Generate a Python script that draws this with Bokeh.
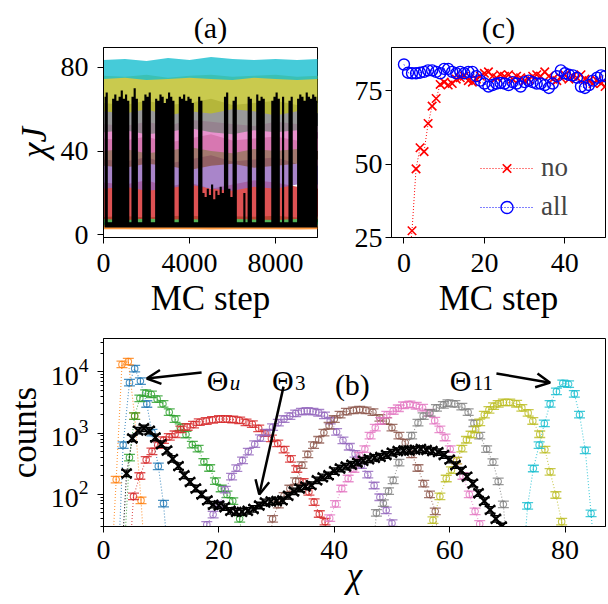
import numpy as np
from bokeh.plotting import figure
from bokeh.layouts import column, row
from bokeh.models import Range1d, FixedTicker, Label, Arrow, OpenHead
from bokeh.embed import file_html
from bokeh.resources import INLINE

# ======================= DATA =======================
# ---- panel (a): chi_J traces (bands of the colored traces + black trace) ----
A_T = [0, 1000, 2000, 3000, 4000, 5000, 6000, 7000, 8000, 9000, 10000]
A_C0_LO = [3.8, 4.0, 3.9, 4.1, 3.8, 4.0, 3.9, 4.0, 4.1, 3.9, 4.0]
A_C0_HI = [6.0, 6.3, 5.9, 6.2, 6.1, 6.0, 6.3, 5.9, 6.1, 6.2, 6.0]
A_C1_LO = [2.6, 2.7, 2.5, 2.6, 2.7, 2.5, 2.6, 2.7, 2.6, 2.5, 2.6]
A_C1_HI = [4.8, 5.0, 4.7, 4.9, 5.0, 4.8, 4.9, 4.7, 5.0, 4.8, 4.9]
A_C2_LO = [4.5, 4.6, 4.4, 4.5, 4.7, 4.5, 4.4, 4.6, 4.5, 4.4, 4.6]
A_C2_HI = [8.5, 9.0, 8.2, 8.8, 9.2, 8.4, 8.9, 8.6, 9.1, 8.3, 8.7]
A_C3_LO = [7.5, 7.0, 7.8, 7.2, 7.5, 7.0, 7.6, 7.3, 7.1, 7.5, 7.4]
A_C3_HI = [25, 24, 26, 23, 25, 22, 24, 26, 25, 23, 24]
A_C4_LO = [22, 23, 21, 22, 24, 22, 21, 23, 22, 24, 22]
A_C4_HI = [36, 35, 37, 34, 36, 38, 35, 36, 37, 34, 36]
A_C5_LO = [33, 32, 34, 33, 31, 33, 34, 32, 33, 34, 33]
A_C5_HI = [46, 45, 47, 44, 46, 48, 45, 46, 47, 45, 46]
A_C6_LO = [40, 41, 39, 40, 42, 40, 39, 41, 40, 41, 40]
A_C6_HI = [53, 52, 54, 52, 55, 54, 53, 52, 54, 53, 52]
A_C7_LO = [49, 50, 48, 49, 51, 49, 48, 50, 49, 50, 49]
A_C7_HI = [63, 62, 64, 62, 63, 65, 62, 63, 64, 62, 63]
A_C8_LO = [59, 58, 60, 57, 59, 58, 60, 59, 57, 59, 58]
A_C8_HI = [76, 75.5, 76.5, 75, 76, 76.5, 75.5, 76, 76.5, 75.5, 76]
A_C9_LO = [74.5, 75, 74, 74.5, 75, 74.5, 74, 75, 74.5, 74, 74.5]
A_C9_HI = [83.5, 84, 83, 84.5, 83.5, 85, 84, 83.5, 84, 83.5, 84]
A_BIN = 100
A_BLACK_FLOOR = 3.5
A_BLACK_TOP = [66, 68, 6, 6, 65, 67, 64, 66, 69, 65,
               67, 64, 6, 66, 70, 65, 6, 6, 64, 67,
               66, 68, 6, 6, 65, 64, 67, 66, 63, 65,
               68, 66, 64, 6, 6, 66, 65, 67, 64, 66,
               65, 63, 6, 6, 66, 64, 20, 18, 22, 19,
               24, 17, 21, 19, 23, 20, 66, 68, 22, 18,
               64, 66, 6, 6, 6, 20, 6, 66, 65, 6,
               6, 67, 64, 66, 65, 6, 6, 6, 64, 66,
               68, 65, 6, 66, 6, 6, 64, 66, 6, 6,
               65, 67, 66, 64, 68, 66, 65, 67, 66, 64]

# ---- panel (b): histograms of chi ----
B_C0_X = [2.4, 3.4, 4.5, 5.4, 6.4, 7.5, 8.4, 9.5, 10.4, 11.5]
B_C0_Y = [3, 640, 6650, 11300, 7070, 2990, 1020, 288, 71, 4]
B_C1_X = [1.2, 2.2, 3.2, 4.3, 5.4, 6.5, 7.5]
B_C1_Y = [3, 175, 13200, 14700, 1900, 80, 3]
B_C2_X = [3.5, 4.5, 5.4, 6.3, 7.3, 8.3, 9.3, 10.3, 11.4, 12.4, 13.3, 14.3, 15.4, 16.4, 17.4,
          18.4, 19.4, 20.4, 21.4, 22.4, 23.6, 24.6]
B_C2_Y = [8, 400, 1900, 3700, 4500, 4300, 3600, 3000, 2200, 1700, 1250, 950, 650, 560, 340,
          270, 165, 125, 100, 78, 40, 8]
B_C3_X = [4.2, 5.2, 6.3, 7.4, 8.4, 9.4, 10.4, 11.4, 12.4, 13.4, 14.5, 15.6, 16.6, 17.8, 18.9,
          20.1, 21.3, 22.4, 23.6, 24.7, 25.8, 26.9, 28.0, 29.1, 30.2, 31.3, 32.4, 33.5, 34.6,
          35.6, 36.5, 37.4, 38.4, 39.4]
B_C3_Y = [3, 93, 200, 367, 505, 640, 770, 870, 960, 1150, 1260, 1380, 1510, 1580, 1650,
          1700, 1700, 1670, 1620, 1500, 1400, 1200, 1000, 820, 680, 540, 380, 260, 160,
          110, 75, 48, 36, 5]
B_C4_X = [16.9, 17.9, 19.0, 20.1, 21.1, 22.2, 23.1, 24.1, 25.1, 26.2, 27.2, 28.3, 29.3, 30.3,
          31.3, 32.3, 33.3, 34.3, 35.3, 36.3, 37.3, 38.3, 39.3, 40.4, 41.5, 42.6, 43.6, 44.7,
          45.8, 46.9, 47.9, 49.0, 50.0, 51.0]
B_C4_Y = [4, 32, 47, 68, 120, 195, 268, 360, 500, 660, 830, 1020, 1250, 1480,
          1700, 1900, 2100, 2250, 2300, 2250, 2150, 1950, 1600, 1050, 760, 600, 460, 300,
          210, 140, 90, 55, 34, 5]
B_C5_X = [28.3, 29.3, 30.3, 31.3, 32.3, 33.3, 34.4, 35.4, 36.4, 37.3, 38.2, 39.1, 40.0, 41.0,
          42.1, 43.3, 44.4, 45.5, 46.7, 47.9, 49.0, 50.0, 51.2, 52.3, 53.4, 54.5, 55.5, 56.5,
          57.5, 58.5]
B_C5_Y = [4, 40, 68, 95, 125, 165, 300, 450, 640, 780, 1020, 1320, 1700, 2000,
          2240, 2350, 2420, 2350, 2200, 1780, 1580, 1230, 910, 700, 450, 270, 150, 100,
          53, 5]
B_C6_X = [38.2, 39.2, 40.2, 41.3, 42.4, 43.4, 44.4, 45.3, 46.2, 47.1, 48.0, 49.1, 50.2, 51.1,
          52.0, 53.1, 54.2, 55.3, 56.4, 57.4, 58.3, 59.2, 60.1, 61.2, 62.3, 63.4, 64.4, 65.2,
          66.0]
B_C6_Y = [4, 41, 70, 125, 182, 260, 430, 550, 910, 1230, 1580, 2000, 2300, 2550,
          2850, 2950, 2800, 2600, 2150, 1600, 1150, 850, 550, 355, 200, 100, 53, 33, 4]
B_C7_X = [46.3, 47.3, 48.5, 49.4, 50.2, 51.2, 52.3, 53.4, 54.5, 55.4, 56.6, 57.7, 58.9, 59.7,
          60.9, 62.1, 63.2, 64.2, 65.2, 66.4, 67.5, 68.4, 69.3, 70.3]
B_C7_Y = [4, 50, 72, 113, 170, 330, 550, 910, 1480, 1900, 2140, 2580, 2900, 3100,
          3000, 2700, 2200, 1450, 910, 550, 337, 163, 69, 4]
B_C8_X = [56.1, 57.1, 58.3, 59.4, 60.3, 61.2, 62.1, 62.9, 63.7, 64.5, 65.2, 66.0, 66.8, 67.6,
          68.4, 69.3, 70.4, 71.6, 72.5, 73.6, 74.4, 75.6, 76.5, 77.4, 78.4, 79.4, 80.3]
B_C8_Y = [4, 38, 93, 182, 250, 355, 560, 780, 950, 1150, 1500, 2000, 2400, 2750,
          3000, 3170, 3170, 3020, 2580, 2140, 1580, 960, 540, 234, 98, 36, 4]
B_C9_X = [72.5, 73.5, 74.5, 75.5, 76.4, 77.4, 78.5, 79.6, 80.6, 81.6, 82.5, 83.5, 84.5, 85.5]
B_C9_Y = [4, 65, 265, 640, 1440, 3000, 4800, 6500, 6300, 4370, 2000, 525, 49, 4]
B_K_X = list(range(3, 70))
B_K_Y = [5, 220, 820, 1100, 1200, 1100, 850, 660, 520, 380, 290, 205, 160, 125, 100, 80,
         68, 66, 62, 54, 52, 52, 54, 58, 66, 74, 77, 78, 80, 95, 112, 125, 135, 142, 170,
         190, 205, 240, 265, 285, 305, 330, 355, 375, 395, 410, 440, 480, 510, 520, 520,
         535, 550, 530, 510, 490, 440, 370, 300, 245, 195, 150, 105, 78, 56, 40, 30]
B_ERR_FRAC = 0.13

# ---- panel (c): chi vs MC step ----
C_STEP = list(range(0, 51))
C_NO = [8, 14, 27.3, 48.4, 55.6, 54.3, 63.9, 69.8, 72.4, 77.2,
        78, 77, 77.5, 79, 79.5, 80, 78.5, 78, 79, 80,
        81, 81.5, 80, 79.5, 80.5, 80, 80.5, 79, 80, 79.5,
        78.5, 79, 80, 80.5, 80, 81.5, 80, 79, 78.5, 79.5,
        80.5, 79, 80, 79.5, 80.5, 79, 78.5, 77.5, 78.5, 77.5,
        76.5]
C_ALL = [84, 81.2, 81, 81, 81.2, 81.5, 82, 82, 81.5, 81,
         82.5, 82.5, 81.5, 81, 81.5, 81, 81.5, 81.5, 80, 78.5,
         77.5, 76.5, 77, 77.5, 77.7, 77.5, 77, 78, 77.5, 76.5,
         78, 78.5, 78, 77.5, 77.5, 77, 76, 77.5, 80, 82,
         81, 80.5, 80.3, 79.5, 76.5, 76, 77, 78.5, 79.5, 80.3,
         80]

# ======================= STYLE =======================
FONT = "Liberation Serif"
TICK_FS = "28px"
LAB_FS = "35px"
TAB = ["#1f77b4", "#ff7f0e", "#2ca02c", "#d62728", "#9467bd",
       "#8c564b", "#e377c2", "#7f7f7f", "#bcbd22", "#17becf"]


def style(p, xstand=10, ystand=9, xlab_stand=4, minor=False):
    p.outline_line_color = "black"
    p.outline_line_width = 1
    p.outline_line_alpha = 1
    p.grid.visible = False
    p.background_fill_color = "white"
    p.border_fill_color = "white"
    for ax in p.axis:
        ax.major_label_text_font = FONT
        ax.major_label_text_font_size = TICK_FS
        ax.major_label_text_color = "black"
        ax.axis_label_text_font = FONT
        ax.axis_label_text_font_size = LAB_FS
        ax.axis_label_text_font_style = "normal"
        ax.axis_label_text_color = "black"
        ax.axis_line_color = "black"
        ax.major_tick_line_color = "black"
        ax.major_tick_out = 6
        ax.major_tick_in = 0
        ax.axis_label_standoff = 4
        ax.minor_tick_line_color = None
    p.xaxis.major_label_standoff = xstand
    p.yaxis.major_label_standoff = ystand
    p.xaxis.axis_label_standoff = xlab_stand
    if minor:
        p.yaxis.minor_tick_line_color = "black"
        p.yaxis.minor_tick_out = 3
        p.yaxis.minor_tick_in = 0


def title(p, txt):
    p.title.text = txt
    p.title.align = "center"
    p.title.text_font = FONT
    p.title.text_font_size = "30px"
    p.title.text_font_style = "normal"
    p.title.text_color = "black"
    p.title.standoff = 7


# ======================= PANEL (a) =======================
pa = figure(output_backend="svg", toolbar_location=None,
            frame_width=214, frame_height=190,
            x_range=Range1d(0, 9950), y_range=Range1d(-1.3, 89.5),
            min_border=0, min_border_left=103, min_border_right=10,
            min_border_top=47, min_border_bottom=10)
title(pa, "(a)")
bands = [(A_C0_LO, A_C0_HI), (A_C1_LO, A_C1_HI), (A_C2_LO, A_C2_HI), (A_C3_LO, A_C3_HI),
         (A_C4_LO, A_C4_HI), (A_C5_LO, A_C5_HI), (A_C6_LO, A_C6_HI), (A_C7_LO, A_C7_HI),
         (A_C8_LO, A_C8_HI), (A_C9_LO, A_C9_HI)]
for (lo, hi), c in zip(bands, TAB):
    pa.varea(x=A_T, y1=lo, y2=hi, fill_color=c, fill_alpha=0.8)
bin_centers = np.arange(len(A_BLACK_TOP)) * A_BIN + A_BIN / 2
floor = np.full(len(A_BLACK_TOP), A_BLACK_FLOOR)
pa.varea_step(x=bin_centers, y1=floor, y2=A_BLACK_TOP, step_mode="center",
              fill_color="black")
style(pa, ystand=9)
pa.xaxis.ticker = FixedTicker(ticks=[0, 4000, 8000])
pa.yaxis.ticker = FixedTicker(ticks=[0, 40, 80])
pa.xaxis.axis_label = "MC step"
pa.yaxis.axis_label = "χJ"
pa.yaxis.axis_label_text_font_style = "italic"

# ======================= PANEL (c) =======================
pc = figure(output_backend="svg", toolbar_location=None,
            frame_width=214, frame_height=190,
            x_range=Range1d(-3.1, 50.1), y_range=Range1d(25, 89.8),
            min_border=0, min_border_left=64, min_border_right=2,
            min_border_top=47, min_border_bottom=10)
title(pc, "(c)")
pc.line(C_STEP, C_NO, line_color="red", line_dash="1 2", line_width=1, legend_label="no")
pc.scatter(C_STEP, C_NO, marker="x", size=12, line_color="red", line_width=1.6, legend_label="no")
pc.line(C_STEP, C_ALL, line_color="blue", line_dash="1 2", line_width=1, legend_label="all")
pc.scatter(C_STEP, C_ALL, marker="circle", size=11, fill_color=None, line_color="blue",
           line_width=1.4, legend_label="all")
style(pc, ystand=3)
pc.xaxis.ticker = FixedTicker(ticks=[0, 20, 40])
pc.yaxis.ticker = FixedTicker(ticks=[25, 50, 75])
pc.xaxis.axis_label = "MC step"
lg = pc.legend[0]
lg.location = (89, 15)
lg.padding = 0
lg.margin = 0
lg.spacing = 8
lg.glyph_width = 53
lg.glyph_height = 30
lg.label_height = 30
lg.label_standoff = 8
lg.label_text_font = FONT
lg.label_text_font_size = "27px"
lg.border_line_alpha = 0
lg.background_fill_alpha = 0

# ======================= PANEL (b) =======================
pb = figure(output_backend="svg", toolbar_location=None,
            frame_width=502, frame_height=188, y_axis_type="log",
            x_range=Range1d(0, 87), y_range=Range1d(30, 35000),
            min_border=0, min_border_left=103, min_border_right=2,
            min_border_top=18, min_border_bottom=10)
series = [(B_C0_X, B_C0_Y), (B_C1_X, B_C1_Y), (B_C2_X, B_C2_Y), (B_C3_X, B_C3_Y),
          (B_C4_X, B_C4_Y), (B_C5_X, B_C5_Y), (B_C6_X, B_C6_Y), (B_C7_X, B_C7_Y),
          (B_C8_X, B_C8_Y), (B_C9_X, B_C9_Y)]


def draw_hist(p, xs, ys, color, marker, msize, mlw, alpha):
    xs = np.asarray(xs, float)
    ys = np.asarray(ys, float)
    up = ys * (1 + B_ERR_FRAC)
    lo = ys / (1 + B_ERR_FRAC)
    p.line(xs, ys, line_color=color, line_dash="1 2", line_width=1.1, line_alpha=alpha)
    p.segment(x0=xs, y0=lo, x1=xs, y1=up, line_color=color, line_width=1.2, line_alpha=alpha)
    p.scatter(xs, up, marker="dash", size=11, line_color=color, line_width=1.3, line_alpha=alpha)
    p.scatter(xs, lo, marker="dash", size=11, line_color=color, line_width=1.3, line_alpha=alpha)
    p.scatter(xs, ys, marker=marker, size=msize, fill_color=None, line_color=color,
              line_width=mlw, line_alpha=alpha)


for (xs, ys), c in zip(series, TAB):
    draw_hist(pb, xs, ys, c, "circle", 6.5, 1.1, 0.8)
draw_hist(pb, B_K_X, B_K_Y, "black", "x", 14, 2.2, 1.0)

style(pb, xstand=8, ystand=9, xlab_stand=-6, minor=True)
pb.xaxis.ticker = FixedTicker(ticks=[0, 20, 40, 60, 80])
minors = [m * 10 ** e for e in range(1, 5) for m in range(2, 10)]
pb.yaxis.ticker = FixedTicker(ticks=[100, 1000, 10000], minor_ticks=minors)
pb.xaxis.axis_label = "χ"
pb.xaxis.axis_label_text_font_style = "italic"
pb.yaxis.axis_label = "counts"


def lab(p, x, y, text, size="30px", style_="normal", xo=0, yo=0):
    p.add_layout(Label(x=x, y=y, text=text, text_font=FONT, text_font_size=size,
                       text_font_style=style_, text_baseline="alphabetic",
                       text_align="left", x_offset=xo, y_offset=yo, text_color="black"))


lab(pb, 17.9, 7300, "Θ")
lab(pb, 17.9, 7300, "u", size="21px", style_="italic", xo=23, yo=-3)
lab(pb, 29.2, 7300, "Θ")
lab(pb, 29.2, 7300, "3", size="21px", xo=23, yo=-3)
lab(pb, 60.0, 7300, "Θ")
lab(pb, 60.0, 7300, "11", size="21px", xo=23, yo=-3)
lab(pb, 40.1, 6250, "(b)", size="30px")

for (x0, y0, x1, y1) in [(17.0, 9750, 7.5, 7800), (31.2, 5740, 27.0, 100), (68.1, 9400, 77.4, 6660)]:
    pb.add_layout(Arrow(end=OpenHead(size=14, line_width=2.5, line_color="black"),
                        x_start=x0, y_start=y0, x_end=x1, y_end=y1,
                        line_width=2.5, line_color="black"))

layout = column(row(pa, pc), pb)
open("out.html", "w").write(file_html(layout, INLINE))
